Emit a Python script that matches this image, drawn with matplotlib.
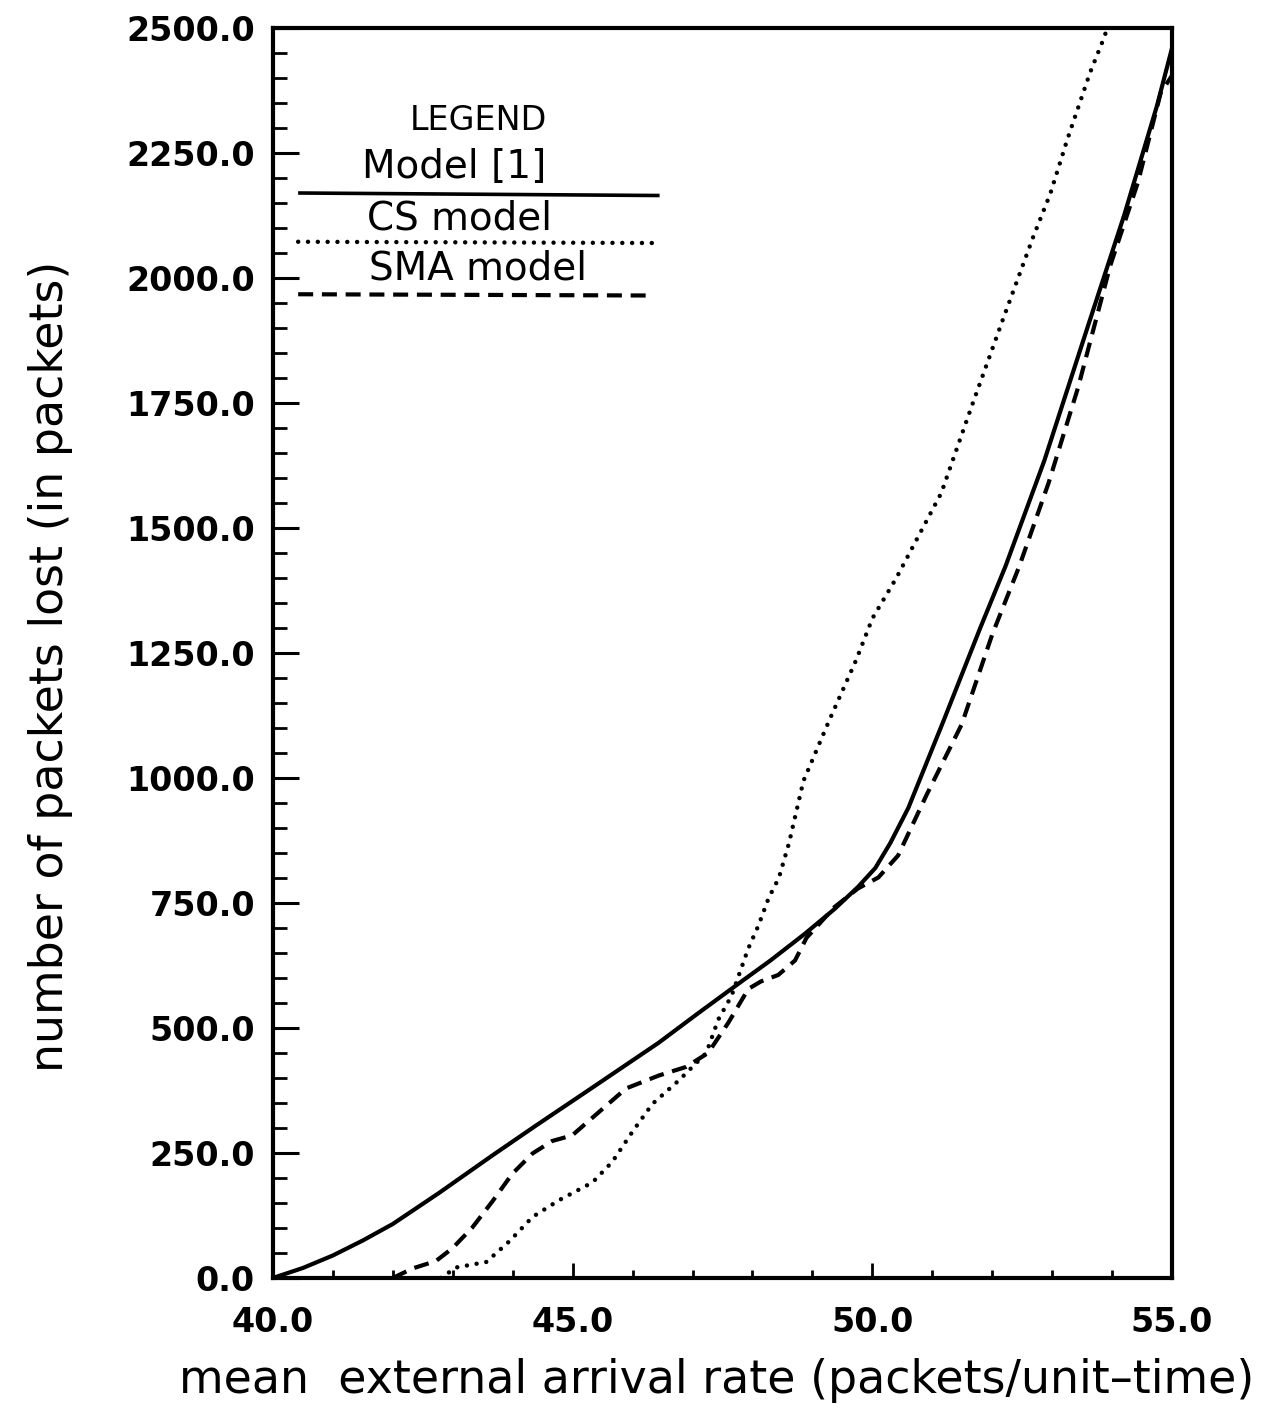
import numpy as np
import matplotlib
matplotlib.use("Agg")
import matplotlib.pyplot as plt
from matplotlib.ticker import MultipleLocator, FormatStrFormatter

plt.rcParams['font.family'] = ['DejaVu Sans']

# values
x_model1 = [40.0, 40.5, 41.0, 41.5, 42.0, 42.77, 43.66, 44.39, 45.32, 46.43,
            47.1, 47.76, 48.3, 48.87, 49.37, 49.76, 50.05, 50.3, 50.6, 51.19,
            51.8, 52.22, 52.87, 53.6, 54.2, 54.75, 55.0]
y_model1 = [0, 20, 45, 75, 108, 170, 245, 305, 380, 470,
            530, 588, 635, 688, 738, 782, 820, 870, 940, 1115,
            1300, 1423, 1635, 1905, 2125, 2345, 2460]

x_cs = [42.8, 43.06, 43.56, 43.95, 44.33, 44.78, 45.33, 45.66, 46.0, 46.33,
        46.78, 47.23, 47.43, 47.65, 47.93, 48.1, 48.27, 48.44, 48.61, 48.85,
        49.28, 49.73, 50.0, 50.4, 51.15, 51.65, 52.19, 52.68, 52.97, 53.25,
        53.63, 53.88, 54.0]
y_cs = [0, 21, 32, 74, 122, 156, 191, 232, 293, 348,
        396, 450, 517, 564, 659, 705, 760, 800, 870, 994,
        1115, 1236, 1319, 1400, 1570, 1741, 1921, 2081, 2169, 2276,
        2410, 2485, 2540]

x_sma = [42.0, 42.33, 42.72, 42.99, 43.32, 43.66, 43.99, 44.33, 44.66, 44.99,
         45.44, 45.89, 46.44, 46.89, 47.26, 47.6, 47.93, 48.14, 48.43, 48.71,
         48.9, 49.37, 49.76, 50.1, 50.43, 50.9, 51.49, 52.0, 52.45, 52.94,
         53.43, 53.97, 54.43, 54.81, 55.0]
y_sma = [0, 19, 34, 59, 100, 153, 208, 249, 274, 285,
         332, 379, 405, 422, 450, 511, 578, 593, 606, 635,
         680, 742, 779, 801, 845, 965, 1107, 1287, 1423, 1590,
         1780, 2025, 2191, 2370, 2405]

fig = plt.figure(figsize=(12.84, 14.22), dpi=100)
ax = fig.add_axes([0.2126, 0.1013, 0.7002, 0.879])

dotted = dict(linestyle=(0, (0.01, 2.2)), dash_capstyle='round', linewidth=3.2)
dashed = dict(linestyle=(0, (3.6, 2.1)), linewidth=3.0)

ax.plot(x_model1, y_model1, color='black', linewidth=3.0)
ax.plot(x_cs, y_cs, color='black', **dotted)
ax.plot(x_sma, y_sma, color='black', **dashed)

ax.set_xlim(40, 55)
ax.set_ylim(0, 2500)

for s in ax.spines.values():
    s.set_linewidth(3)

ax.xaxis.set_major_locator(MultipleLocator(5))
ax.xaxis.set_minor_locator(MultipleLocator(1))
ax.yaxis.set_major_locator(MultipleLocator(250))
ax.yaxis.set_minor_locator(MultipleLocator(50))
ax.xaxis.set_major_formatter(FormatStrFormatter('%.1f'))
ax.yaxis.set_major_formatter(FormatStrFormatter('%.1f'))

ax.tick_params(axis='x', which='major', direction='in', length=11, width=2,
               pad=20, labelsize=24, top=False)
ax.tick_params(axis='x', which='minor', direction='in', length=6, width=2, top=False)
ax.tick_params(axis='y', which='major', direction='in', length=19, width=2.2,
               pad=13, labelsize=24, right=False)
ax.tick_params(axis='y', which='minor', direction='in', length=10, width=2, right=False)
for lab in ax.get_xticklabels() + ax.get_yticklabels():
    lab.set_fontweight('bold')

ax.set_xlabel('mean  external arrival rate (packets/unit\u2013time)', fontsize=33)
ax.set_ylabel('number of packets lost (in packets)', fontsize=33)
ax.xaxis.set_label_coords(0.493, -0.064)
ax.yaxis.set_label_coords(-0.222, 0.489)

# hand drawn legend block
tr = ax.transAxes
ax.text(0.228, 0.926, 'LEGEND', transform=tr, ha='center', va='center', fontsize=24)
ax.text(0.201, 0.889, 'Model [1]', transform=tr, ha='center', va='center', fontsize=28)
ax.plot([0.03, 0.428], [0.868, 0.866], transform=tr, color='black', linewidth=2.6)
ax.text(0.207, 0.848, 'CS model', transform=tr, ha='center', va='center', fontsize=28)
ax.plot([0.028, 0.422], [0.829, 0.828], transform=tr, color='black', **dotted)
ax.text(0.228, 0.808, 'SMA model', transform=tr, ha='center', va='center', fontsize=28)
ax.plot([0.028, 0.419], [0.787, 0.786], transform=tr, color='black', **dashed)

fig.savefig('out.png', dpi=100)
